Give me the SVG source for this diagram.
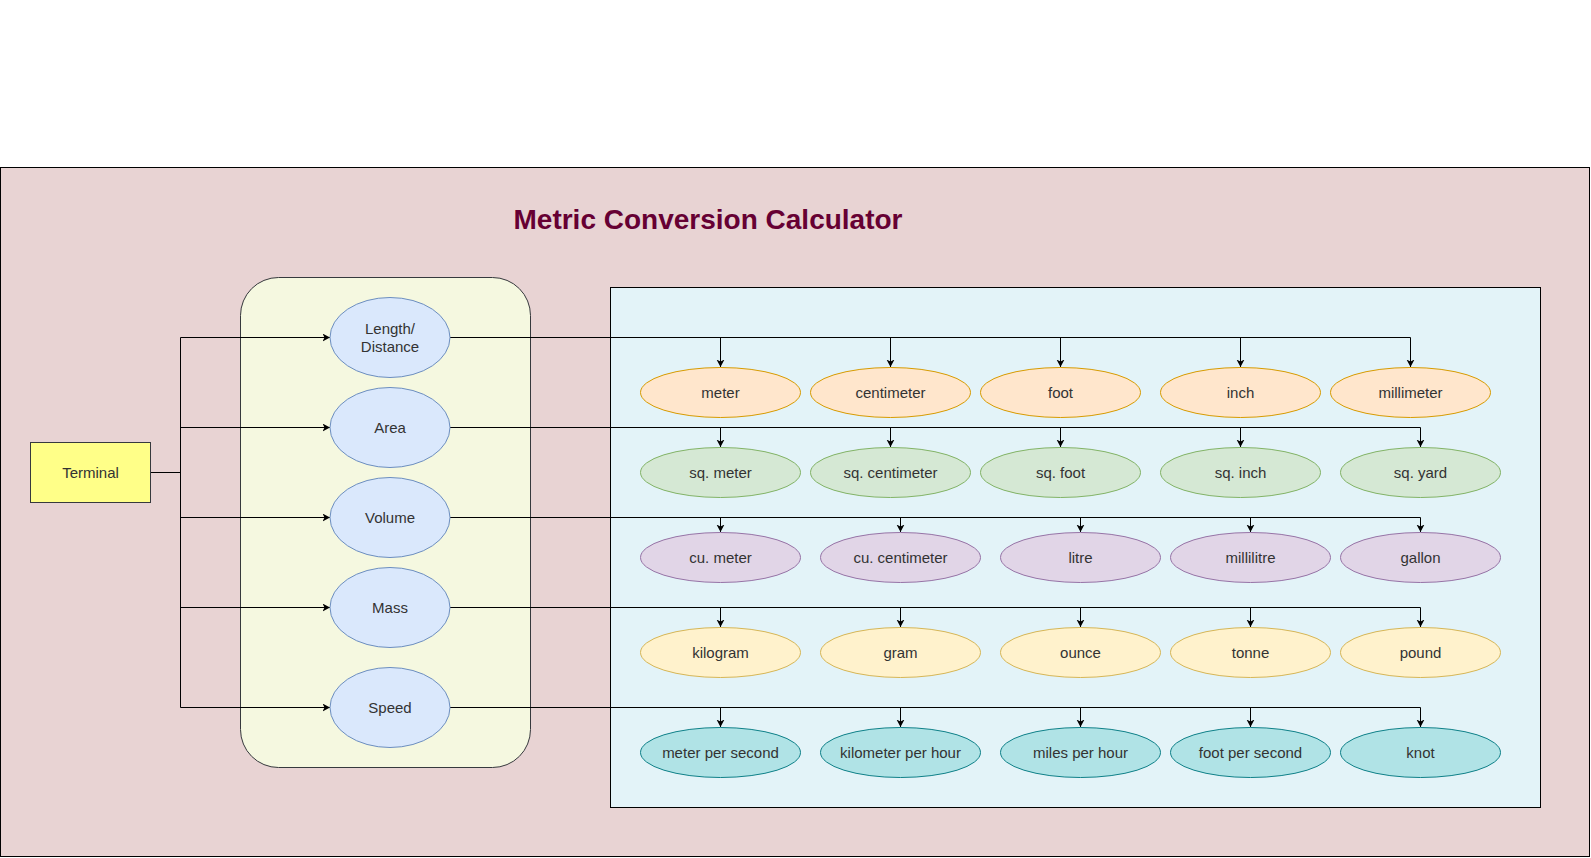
<svg xmlns="http://www.w3.org/2000/svg" width="1591" height="858" viewBox="0 0 1591 858">
<defs>
<marker id="arr" markerUnits="userSpaceOnUse" markerWidth="9" markerHeight="9" refX="7.5" refY="4" orient="auto">
<path d="M0,0 L7.5,4 L0,8 L2,4 Z" fill="#000"/>
</marker>
</defs>
<style>
text{font-family:"Liberation Sans",Arial,sans-serif;font-size:15px;fill:#333;text-anchor:middle}
.cat{fill:#dae8fc;stroke:#6c8ebf;stroke-width:1}
.r1{fill:#ffe6cc;stroke:#d79b00;stroke-width:1}
.r2{fill:#d5e8d4;stroke:#82b366;stroke-width:1}
.r3{fill:#e1d5e7;stroke:#9673a6;stroke-width:1}
.r4{fill:#fff2cc;stroke:#d6b656;stroke-width:1}
.r5{fill:#b0e3e6;stroke:#0e8088;stroke-width:1}
.ln{fill:none;stroke:#000;stroke-width:1}
.ar{fill:none;stroke:#000;stroke-width:1;marker-end:url(#arr)}
</style>
<g id="background">
<rect x="0.5" y="167.5" width="1589" height="689" fill="#e8d3d3" stroke="#000" stroke-width="1"/>
<text x="708" y="229" style="font-size:28px;font-weight:bold;fill:#660033">Metric Conversion Calculator</text>
<rect id="category-panel" x="240.5" y="277.5" width="290" height="490" rx="38" ry="38" fill="#f5f8e0" stroke="#36393d" stroke-width="1"/>
<rect id="unit-panel" x="610.5" y="287.5" width="930" height="520" fill="#e3f3f8" stroke="#000" stroke-width="1"/>
</g>
<g id="connectors">
<path class="ln" d="M150,472.5 H180.5 M180.5,337.5 V707.5"/>
<path class="ar" d="M180.5,337.5 H330"/>
<path class="ar" d="M180.5,427.5 H330"/>
<path class="ar" d="M180.5,517.5 H330"/>
<path class="ar" d="M180.5,607.5 H330"/>
<path class="ar" d="M180.5,707.5 H330"/>
<path class="ln" d="M450,337.5 H1410.5"/>
<path class="ar" d="M720.5,337.5 V367"/>
<path class="ar" d="M890.5,337.5 V367"/>
<path class="ar" d="M1060.5,337.5 V367"/>
<path class="ar" d="M1240.5,337.5 V367"/>
<path class="ar" d="M1410.5,337.5 V367"/>
<path class="ln" d="M450,427.5 H1420.5"/>
<path class="ar" d="M720.5,427.5 V447"/>
<path class="ar" d="M890.5,427.5 V447"/>
<path class="ar" d="M1060.5,427.5 V447"/>
<path class="ar" d="M1240.5,427.5 V447"/>
<path class="ar" d="M1420.5,427.5 V447"/>
<path class="ln" d="M450,517.5 H1420.5"/>
<path class="ar" d="M720.5,517.5 V532"/>
<path class="ar" d="M900.5,517.5 V532"/>
<path class="ar" d="M1080.5,517.5 V532"/>
<path class="ar" d="M1250.5,517.5 V532"/>
<path class="ar" d="M1420.5,517.5 V532"/>
<path class="ln" d="M450,607.5 H1420.5"/>
<path class="ar" d="M720.5,607.5 V627"/>
<path class="ar" d="M900.5,607.5 V627"/>
<path class="ar" d="M1080.5,607.5 V627"/>
<path class="ar" d="M1250.5,607.5 V627"/>
<path class="ar" d="M1420.5,607.5 V627"/>
<path class="ln" d="M450,707.5 H1420.5"/>
<path class="ar" d="M720.5,707.5 V727"/>
<path class="ar" d="M900.5,707.5 V727"/>
<path class="ar" d="M1080.5,707.5 V727"/>
<path class="ar" d="M1250.5,707.5 V727"/>
<path class="ar" d="M1420.5,707.5 V727"/>
</g>
<g id="terminal"><rect x="30.5" y="442.5" width="120" height="60" fill="#ffff88" stroke="#36393d"/><text x="90.5" y="478">Terminal</text></g>
<g id="length"><ellipse class="cat" cx="390" cy="337.5" rx="60" ry="40"/><text x="390" y="334">Length/</text><text x="390" y="351.5">Distance</text></g>
<g id="area"><ellipse class="cat" cx="390" cy="427.5" rx="60" ry="40"/><text x="390" y="433">Area</text></g>
<g id="volume"><ellipse class="cat" cx="390" cy="517.5" rx="60" ry="40"/><text x="390" y="523">Volume</text></g>
<g id="mass"><ellipse class="cat" cx="390" cy="607.5" rx="60" ry="40"/><text x="390" y="613">Mass</text></g>
<g id="speed"><ellipse class="cat" cx="390" cy="707.5" rx="60" ry="40"/><text x="390" y="713">Speed</text></g>
<g id="meter"><ellipse class="r1" cx="720.5" cy="392.5" rx="80" ry="25"/><text x="720.5" y="398">meter</text></g>
<g id="centimeter"><ellipse class="r1" cx="890.5" cy="392.5" rx="80" ry="25"/><text x="890.5" y="398">centimeter</text></g>
<g id="foot"><ellipse class="r1" cx="1060.5" cy="392.5" rx="80" ry="25"/><text x="1060.5" y="398">foot</text></g>
<g id="inch"><ellipse class="r1" cx="1240.5" cy="392.5" rx="80" ry="25"/><text x="1240.5" y="398">inch</text></g>
<g id="millimeter"><ellipse class="r1" cx="1410.5" cy="392.5" rx="80" ry="25"/><text x="1410.5" y="398">millimeter</text></g>
<g id="sq-meter"><ellipse class="r2" cx="720.5" cy="472.5" rx="80" ry="25"/><text x="720.5" y="478">sq. meter</text></g>
<g id="sq-centimeter"><ellipse class="r2" cx="890.5" cy="472.5" rx="80" ry="25"/><text x="890.5" y="478">sq. centimeter</text></g>
<g id="sq-foot"><ellipse class="r2" cx="1060.5" cy="472.5" rx="80" ry="25"/><text x="1060.5" y="478">sq. foot</text></g>
<g id="sq-inch"><ellipse class="r2" cx="1240.5" cy="472.5" rx="80" ry="25"/><text x="1240.5" y="478">sq. inch</text></g>
<g id="sq-yard"><ellipse class="r2" cx="1420.5" cy="472.5" rx="80" ry="25"/><text x="1420.5" y="478">sq. yard</text></g>
<g id="cu-meter"><ellipse class="r3" cx="720.5" cy="557.5" rx="80" ry="25"/><text x="720.5" y="563">cu. meter</text></g>
<g id="cu-centimeter"><ellipse class="r3" cx="900.5" cy="557.5" rx="80" ry="25"/><text x="900.5" y="563">cu. centimeter</text></g>
<g id="litre"><ellipse class="r3" cx="1080.5" cy="557.5" rx="80" ry="25"/><text x="1080.5" y="563">litre</text></g>
<g id="millilitre"><ellipse class="r3" cx="1250.5" cy="557.5" rx="80" ry="25"/><text x="1250.5" y="563">millilitre</text></g>
<g id="gallon"><ellipse class="r3" cx="1420.5" cy="557.5" rx="80" ry="25"/><text x="1420.5" y="563">gallon</text></g>
<g id="kilogram"><ellipse class="r4" cx="720.5" cy="652.5" rx="80" ry="25"/><text x="720.5" y="658">kilogram</text></g>
<g id="gram"><ellipse class="r4" cx="900.5" cy="652.5" rx="80" ry="25"/><text x="900.5" y="658">gram</text></g>
<g id="ounce"><ellipse class="r4" cx="1080.5" cy="652.5" rx="80" ry="25"/><text x="1080.5" y="658">ounce</text></g>
<g id="tonne"><ellipse class="r4" cx="1250.5" cy="652.5" rx="80" ry="25"/><text x="1250.5" y="658">tonne</text></g>
<g id="pound"><ellipse class="r4" cx="1420.5" cy="652.5" rx="80" ry="25"/><text x="1420.5" y="658">pound</text></g>
<g id="meter-per-second"><ellipse class="r5" cx="720.5" cy="752.5" rx="80" ry="25"/><text x="720.5" y="758">meter per second</text></g>
<g id="kilometer-per-hour"><ellipse class="r5" cx="900.5" cy="752.5" rx="80" ry="25"/><text x="900.5" y="758">kilometer per hour</text></g>
<g id="miles-per-hour"><ellipse class="r5" cx="1080.5" cy="752.5" rx="80" ry="25"/><text x="1080.5" y="758">miles per hour</text></g>
<g id="foot-per-second"><ellipse class="r5" cx="1250.5" cy="752.5" rx="80" ry="25"/><text x="1250.5" y="758">foot per second</text></g>
<g id="knot"><ellipse class="r5" cx="1420.5" cy="752.5" rx="80" ry="25"/><text x="1420.5" y="758">knot</text></g>
</svg>
